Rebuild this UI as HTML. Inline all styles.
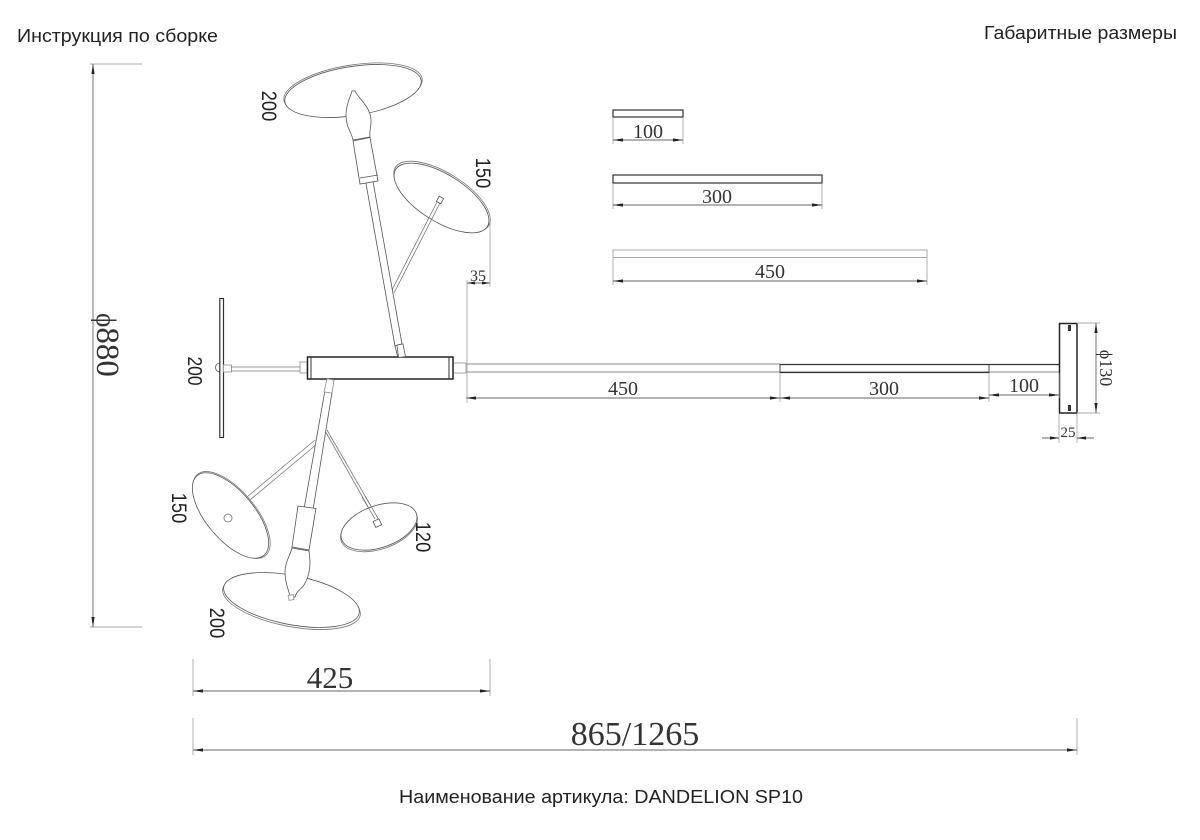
<!DOCTYPE html>
<html>
<head>
<meta charset="utf-8">
<style>
html,body{margin:0;padding:0;background:#fff}
svg{display:block}
.s{font-family:"Liberation Sans",sans-serif;fill:#222}
.f{font-family:"Liberation Serif",serif;fill:#333}
.d{stroke:#666;stroke-width:.9;fill:none}
.e{stroke:#aaa;stroke-width:.9;fill:none}
.k{stroke:#333;stroke-width:1.2;fill:#fff}
.t{stroke:#555;stroke-width:.8;fill:#fff}
.b{stroke:#999;stroke-width:.9;fill:#fff}
.g{stroke:#777;stroke-width:.8;fill:none}
</style>
</head>
<body>
<svg width="1200" height="840" viewBox="0 0 1200 840" xmlns="http://www.w3.org/2000/svg">
<defs>
<marker id="a" viewBox="0 0 10 4" refX="10" refY="2" markerWidth="10" markerHeight="4" markerUnits="userSpaceOnUse" orient="auto-start-reverse"><path d="M10,2 L0,0.4 L0,3.6Z" fill="#222"/></marker>
</defs>
<rect width="1200" height="840" fill="#fff"/>

<text class="s" x="17" y="42" font-size="18" textLength="201" lengthAdjust="spacingAndGlyphs">Инструкция по сборке</text>
<text class="s" x="984" y="39" font-size="18" textLength="193" lengthAdjust="spacingAndGlyphs">Габаритные размеры</text>
<text class="s" x="399" y="803" font-size="18" textLength="404" lengthAdjust="spacingAndGlyphs">Наименование артикула: DANDELION SP10</text>

<!-- 880 -->
<path class="e" d="M90,64H142M90,627H142"/>
<line class="d" x1="93" y1="64" x2="93" y2="627" marker-start="url(#a)" marker-end="url(#a)"/>
<text class="f" font-size="33" text-anchor="middle" transform="translate(97,345) rotate(90)"><tspan font-size="27">ϕ</tspan>880</text>

<!-- 425 -->
<path class="e" d="M193,659V696M490,659V696"/>
<line class="d" x1="193" y1="691" x2="490" y2="691" marker-start="url(#a)" marker-end="url(#a)"/>
<text class="f" x="330" y="688" font-size="31" text-anchor="middle">425</text>

<!-- 865/1265 -->
<path class="e" d="M193,718V755M1077,718V755"/>
<line class="d" x1="193" y1="750" x2="1077" y2="750" marker-start="url(#a)" marker-end="url(#a)"/>
<text class="f" x="635" y="745" font-size="34" text-anchor="middle">865/1265</text>

<!-- Top sample bars -->
<rect class="k" x="613" y="110" width="70" height="7"/>
<path class="e" d="M613,118V144M683,118V144"/>
<line class="d" x1="613" y1="140" x2="683" y2="140" marker-start="url(#a)" marker-end="url(#a)"/>
<text class="f" x="648" y="138" font-size="20" text-anchor="middle">100</text>

<rect class="k" x="613" y="175" width="209" height="8"/>
<path class="e" d="M613,184V209M822,184V209"/>
<line class="d" x1="613" y1="205" x2="822" y2="205" marker-start="url(#a)" marker-end="url(#a)"/>
<text class="f" x="717" y="203" font-size="20" text-anchor="middle">300</text>

<rect x="613" y="250" width="314" height="7.500" fill="#fff" stroke="#aaa" stroke-width="1"/>
<path class="e" d="M613,258V285M927,250V285"/>
<line class="d" x1="613" y1="281" x2="927" y2="281" marker-start="url(#a)" marker-end="url(#a)"/>
<text class="f" x="770" y="278" font-size="20" text-anchor="middle">450</text>

<!-- Right arm -->
<path d="M466,364H780M466,372H1059" stroke="#888" stroke-width="1" fill="none"/>
<path d="M780,364.500H1059M780,372.500H989" stroke="#333" stroke-width="1.300" fill="none"/>
<path d="M780,364V373M989,364V373" stroke="#444" stroke-width="1" fill="none"/>
<rect class="b" x="453" y="363" width="13" height="10"/>

<!-- End plate -->
<rect x="1059.500" y="323.500" width="17.500" height="89.500" fill="#fff" stroke="#222" stroke-width="1.500"/>
<path d="M1069.500,325V331M1069.500,405V411" stroke="#333" stroke-width="3"/>
<path class="e" d="M1077,323H1100M1077,413H1100M1059,414V443M1077,414V443"/>
<line class="d" x1="1096" y1="323" x2="1096" y2="413" marker-start="url(#a)" marker-end="url(#a)"/>
<text class="f" font-size="18" text-anchor="middle" transform="translate(1100,368) rotate(90)">ϕ130</text>
<path class="d" d="M1042,438H1059M1077,438H1094"/>
<path d="M1059,438L1050,436.400V439.600Z M1077,438L1086,436.400V439.600Z" fill="#222"/>
<text class="f" x="1068" y="437" font-size="15" text-anchor="middle">25</text>

<!-- Lower dims -->
<path class="e" d="M780,373V402M989,373V402M1059,373V398"/>
<line class="d" x1="466" y1="398" x2="780" y2="398" marker-start="url(#a)" marker-end="url(#a)"/>
<line class="d" x1="780" y1="398" x2="989" y2="398" marker-start="url(#a)" marker-end="url(#a)"/>
<line class="d" x1="989" y1="395" x2="1059" y2="395" marker-start="url(#a)" marker-end="url(#a)"/>
<text class="f" x="623" y="395" font-size="20" text-anchor="middle">450</text>
<text class="f" x="884" y="395" font-size="20" text-anchor="middle">300</text>
<text class="f" x="1024" y="392" font-size="20" text-anchor="middle">100</text>

<!-- 35 dim -->
<path class="e" d="M490,220V287M467,280V403"/>
<path class="d" d="M467,283H490"/>
<path d="M467,283L475,281.500V284.500Z M490,283L482,281.500V284.500Z" fill="#222"/>
<text class="f" x="478" y="281" font-size="16" text-anchor="middle">35</text>

<!-- Top large disc -->
<ellipse class="g" cx="353" cy="89.500" rx="70" ry="24.500" style="fill:#fff" transform="rotate(-9 353 89.500)"/>
<ellipse class="t" cx="353" cy="91" rx="69" ry="24.500" transform="rotate(-9 353 91)"/>

<!-- Small disc upper right -->
<ellipse class="g" cx="442" cy="196.500" rx="55" ry="23.500" style="fill:#fff" transform="rotate(32 442 196.500)"/>
<ellipse class="t" cx="441.500" cy="198" rx="54" ry="23.500" transform="rotate(32 441.500 198)"/>
<path class="g" d="M391.500,291L437,202M394,293L440,203"/>
<rect class="t" x="437.500" y="197" width="5" height="6" transform="rotate(28 440 200)"/>

<!-- Top stem -->
<path class="t" d="M365,178L372,176L402,344L395,346Z"/>
<path class="t" d="M395,346L402,344L405,356L398,358Z"/>
<path class="t" d="M353,141L370,137.500L378,181L360,184Z"/>
<path class="t" d="M360,178L378,175" fill="none"/>
<path class="t" d="M352,91L355,91C358,98 372,108 371,122C371,128 369,132 370,137L353,140C352,133 346,128 346,115C346,105 350,98 352,91Z"/>

<!-- Left plate -->
<path class="t" d="M219,363A4.500,4.500 0 0 0 219,372Z" transform="translate(1,0)"/>
<rect x="219.800" y="298.500" width="3.700" height="139" fill="#fff" stroke="#333" stroke-width="1.200"/>
<rect class="b" x="223.500" y="365" width="8" height="7"/>
<path class="g" d="M231,367H300M231,371H300"/>
<rect class="b" x="300" y="362" width="7" height="11"/>
<text class="s" font-size="20" text-anchor="middle" transform="translate(188,371) rotate(90) scale(.87,1)">200</text>

<!-- Main body -->
<rect x="307.500" y="357" width="145.500" height="22" fill="#fff" stroke="#222" stroke-width="1.500"/>
<path d="M311,357V379M449,357V379" stroke="#333" stroke-width="1"/>
<path class="t" d="M397,345L403,344L405.500,356.500L398.500,357.500Z"/>

<!-- Lower stem branches -->
<path class="g" d="M247,497L315,440M250,500L317,444"/>
<path class="g" d="M324,429L375,519M327,430L379,520"/>

<!-- Lower left disc -->
<ellipse class="g" cx="231.500" cy="515" rx="53" ry="24" style="fill:#fff" transform="rotate(50 231.500 515)"/>
<ellipse class="t" cx="230.500" cy="515.500" rx="52" ry="24" transform="rotate(50 230.500 515.500)"/>
<circle cx="228" cy="518" r="4" fill="#fff" stroke="#888" stroke-width="1"/>

<!-- Lower right disc -->
<ellipse class="g" cx="379" cy="528" rx="40" ry="21" style="fill:#fff" transform="rotate(-19 379 528)"/>
<ellipse class="t" cx="379" cy="526.500" rx="39.500" ry="21" transform="rotate(-19 379 526.500)"/>
<path class="g" d="M362,497L375,519M365,496L379,520"/>
<rect class="t" x="374" y="520" width="6.500" height="6.500" transform="rotate(-25 377 523)"/>

<!-- Lower large disc -->
<ellipse class="g" cx="291.500" cy="602" rx="70" ry="24.500" style="fill:#fff" transform="rotate(11 291.500 602)"/>
<ellipse class="t" cx="291.500" cy="600" rx="69" ry="24.500" transform="rotate(11 291.500 600)"/>

<!-- Lower stem -->
<path class="t" d="M327,379L334,380L313,510L304,509Z"/>
<path class="b" d="M327,379L334,380L332,393L324,392Z"/>
<path class="t" d="M298,506L316,508.500L309,550L292,547Z"/>
<path class="t" d="M292,548L309,551C311,565 310,575 304,585C300,590 296,592 295,597L290,598C290,592 285,585 285,572C285,562 290,556 292,548Z"/>
<rect class="b" x="288.500" y="595" width="5" height="5" transform="rotate(-10 291 597)"/>

<!-- Rotated labels -->
<text class="s" font-size="21" text-anchor="middle" transform="translate(262,106) rotate(90) scale(.87,1)">200</text>
<text class="s" font-size="21" text-anchor="middle" transform="translate(476,173) rotate(90) scale(.87,1)">150</text>
<text class="s" font-size="21" text-anchor="middle" transform="translate(172,508) rotate(90) scale(.87,1)">150</text>
<text class="s" font-size="21" text-anchor="middle" transform="translate(416,537) rotate(90) scale(.87,1)">120</text>
<text class="s" font-size="21" text-anchor="middle" transform="translate(210,623) rotate(90) scale(.87,1)">200</text>
</svg>
</body>
</html>
